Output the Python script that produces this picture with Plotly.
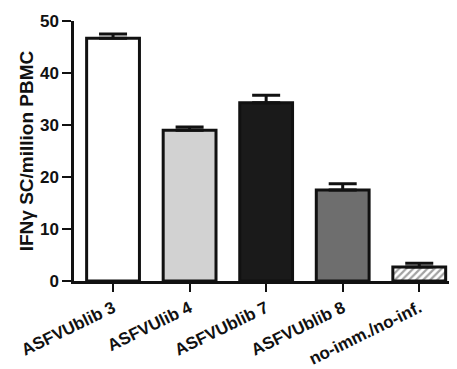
import plotly.graph_objects as go

categories = ["ASFVUblib 3", "ASFVUlib 4", "ASFVUblib 7", "ASFVUblib 8", "no-imm./no-inf."]
values = [46.7, 29.0, 34.3, 17.5, 2.7]
errors = [0.8, 0.6, 1.4, 1.2, 0.7]
fill_colors = ["#ffffff", "#d2d2d2", "#1a1a1a", "#6e6e6e", "#ffffff"]
patterns = ["", "", "", "", "/"]
y_ticks = [0, 10, 20, 30, 40, 50]

fig = go.Figure()
fig.add_trace(go.Bar(
    x=categories, y=values,
    width=0.69,
    marker=dict(
        color=fill_colors,
        line=dict(color="#111111", width=3),
        pattern=dict(shape=patterns, fgcolor="#111111", bgcolor="#ffffff", size=5, solidity=0.45),
    ),
    error_y=dict(type="data", array=errors, arrayminus=[0]*len(errors), symmetric=False,
                 color="#111111", thickness=3, width=14),
))

font = "Liberation Sans, Arial, sans-serif"
fig.update_layout(
    width=449, height=361,
    margin=dict(l=66, r=1, t=13, b=88, autoexpand=False),
    paper_bgcolor="white", plot_bgcolor="white",
    showlegend=False,
    font=dict(family=font, color="#111111"),
)
fig.update_xaxes(
    range=[-0.51, 4.48],
    automargin=False,
    showline=True, linecolor="#111111", linewidth=2.5,
    ticks="outside", ticklen=8, tickwidth=2, tickcolor="#111111",
    tickangle=-26,
    tickfont=dict(family=font, size=17, color="#111111", weight="bold"),
    showgrid=False, zeroline=False,
)
fig.update_yaxes(
    range=[0, 50],
    automargin=False,
    tickvals=y_ticks,
    showline=True, linecolor="#111111", linewidth=2.5,
    ticks="outside", ticklen=9, tickwidth=2, tickcolor="#111111",
    tickfont=dict(family=font, size=17, color="#111111", weight="bold"),
    title=dict(text="<b>IFNγ SC/million PBMC</b>", font=dict(family=font, size=19, color="#111111"), standoff=2),
    showgrid=False, zeroline=False,
)

fig.write_html("out.html")
